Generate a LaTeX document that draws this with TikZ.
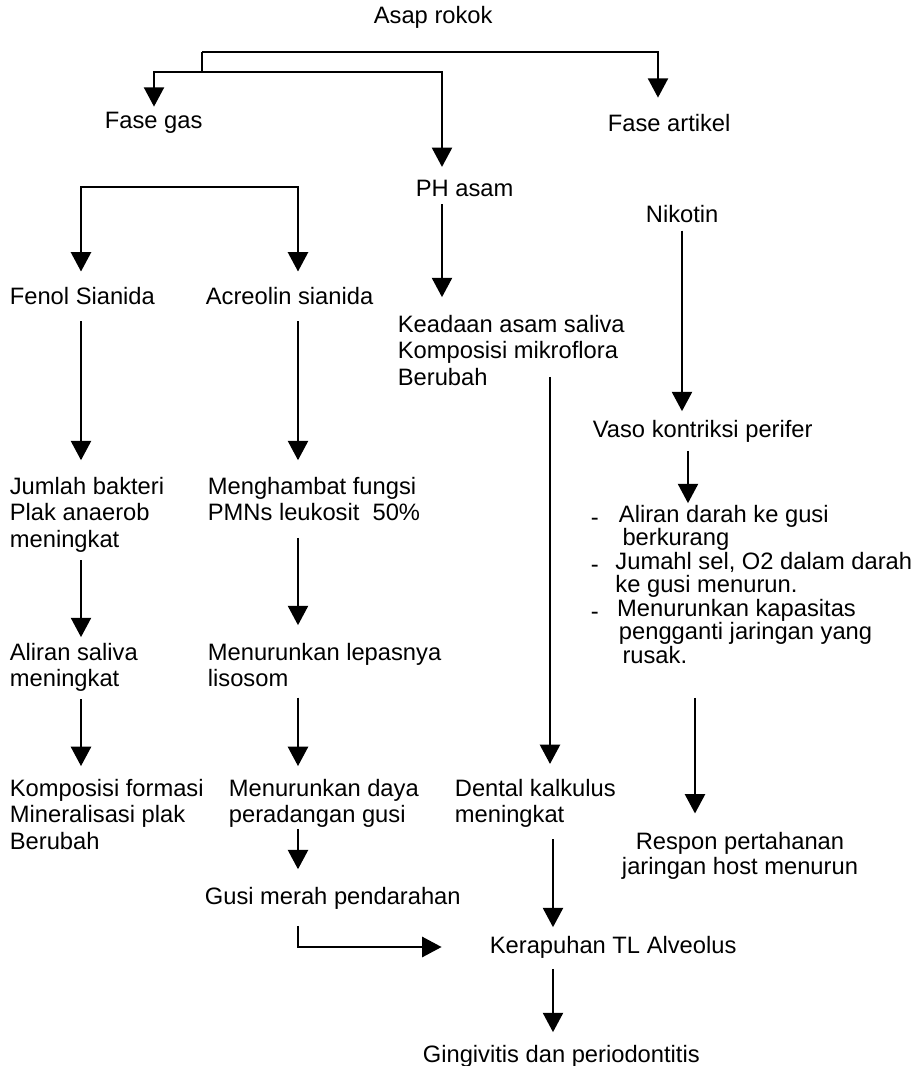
\documentclass[tikz,border=0pt]{standalone}
\usepackage{fontspec}
\setmainfont{Liberation Sans}
\usetikzlibrary{arrows.meta}
\newcommand{\lowdash}[1]{\makebox[#1][l]{\raisebox{-1.8pt}{-}}}
\begin{document}
\begin{tikzpicture}[x=0.02cm,y=-0.02cm,
  line width=1pt,>={Triangle[width=11.5pt,length=11pt]},
  main node/.style={inner sep=0pt,anchor=west,font=\fontsize{13.5}{15.3}\selectfont},
  block node/.style={main node,align=left,anchor=north west}]

  \useasboundingbox (0,0) rectangle (920,1066);

  \node[main node] (asap) at (373,17) {Asap rokok};
  \node[main node] (gas) at (104,123) {Fase gas};
  \node[main node] (artikel) at (607,123) {Fase artikel};
  \node[main node] (ph) at (415,188) {PH asam};
  \node[main node] (nikotin) at (645,214) {Nikotin};
  \node[main node] (fenol) at (9,296) {Fenol Sianida};
  \node[main node] (acreolin) at (205,296) {Acreolin sianida};
  \node[block node] (keadaan) at (397,314) {Keadaan asam saliva\\Komposisi mikroflora\\Berubah};
  \node[main node] (vaso) at (592,431) {Vaso kontriksi perifer};
  \node[block node] (jumlah) at (9,476) {Jumlah bakteri\\Plak anaerob\\meningkat};
  \node[block node] (menghambat) at (207,476) {Menghambat fungsi\\PMNs leukosit\ \ 50\%};
  \node[block node,font=\fontsize{13.5}{13.4}\selectfont] (bullets) at (590,504)
    {\lowdash{16pt}Aliran darah ke gusi\\
     \hspace*{18pt}berkurang\\
     \lowdash{14pt}Jumahl sel, O2 dalam darah\\
     \hspace*{14pt}ke gusi menurun.\\
     \lowdash{15pt}Menurunkan kapasitas\\
     \hspace*{16pt}pengganti jaringan yang\\
     \hspace*{18pt}rusak.};
  \node[block node] (aliran) at (9,642) {Aliran saliva\\meningkat};
  \node[block node] (lepas) at (207,642) {Menurunkan lepasnya\\lisosom};
  \node[block node] (komposisi) at (9,778) {Komposisi formasi\\Mineralisasi plak\\Berubah};
  \node[block node] (daya) at (228,778) {Menurunkan daya\\peradangan gusi};
  \node[block node] (dental) at (454,778) {Dental kalkulus\\meningkat};
  \node[block node,align=center,anchor=north,font=\fontsize{13.5}{14.2}\selectfont] (respon) at (740,831)
    {Respon pertahanan\\jaringan host menurun};
  \node[main node] (gusi) at (204,898) {Gusi merah pendarahan};
  \node[main node] (kerapuhan) at (489,947) {Kerapuhan TL Alveolus};
  \node[main node] (gingiv) at (422,1056) {Gingivitis dan periodontitis};

  % top split
  \coordinate (t1) at (202,52);
  \coordinate (t2) at (202,72);
  \coordinate (a1) at (658,52);
  \coordinate (g1) at (154,72);
  \coordinate (p1) at (442,72);
  \draw[->,shorten >=9pt] (t1) -- (a1) -- (artikel.north -| a1);
  \draw (t1) -- (t2);
  \draw[->,shorten >=2.8pt] (t2) -- (g1) -- (gas.north -| g1);
  \draw[->,shorten >=6.8pt] (t2) -- (p1) -- (ph.north -| p1);

  % fase gas branch
  \coordinate (b1) at (81,187);
  \coordinate (b2) at (298,187);
  \draw[<->,shorten <=8.5pt,shorten >=8.5pt] (fenol.north -| b1) -- (b1) -- (b2) -- (acreolin.north -| b2);
  \draw[->,shorten <=9pt,shorten >=9pt] (fenol.south -| b1) -- (jumlah.north -| b1);
  \draw[->,shorten <=3.7pt,shorten >=2.8pt] (jumlah.south -| b1) -- (aliran.north -| b1);
  \draw[->,shorten <=3.7pt,shorten >=6.8pt] (aliran.south -| b1) -- (komposisi.north -| b1);
  \draw[->,shorten <=9pt,shorten >=9pt] (acreolin.south -| b2) -- (menghambat.north -| b2);
  \draw[->,shorten <=9pt,shorten >=9.6pt] (menghambat.south -| b2) -- (lepas.north -| b2);
  \draw[->,shorten <=5.4pt,shorten >=6.8pt] (lepas.south -| b2) -- (daya.north -| b2);
  \draw[->,shorten >=9.6pt] (daya.south -| b2) -- (gusi.north -| b2);
  \draw[->,shorten <=9pt,shorten >=27pt] (gusi.south -| b2) |- (kerapuhan.west);

  % ph column
  \coordinate (d1) at (550,0);
  \coordinate (d2) at (553,0);
  \draw[->,shorten <=4pt,shorten >=9.6pt] (ph.south -| p1) -- (keadaan.north -| p1);
  \draw[->,shorten <=-5.7pt,shorten >=8pt] (keadaan.south -| d1) -- (dental.north -| d1);
  \draw[->,shorten <=6pt,shorten >=4.5pt] (dental.south -| d2) -- (kerapuhan.north -| d2);
  \draw[->,shorten <=5.7pt,shorten >=6.8pt] (kerapuhan.south -| d2) -- (gingiv.north -| d2);

  % nikotin column
  \coordinate (n1) at (682,0);
  \coordinate (n2) at (688,0);
  \coordinate (n3) at (695,0);
  \draw[->,shorten <=4pt,shorten >=4.5pt] (nikotin.south -| n1) -- (vaso.north -| n1);
  \draw[->,shorten <=4.5pt,shorten >=0.5pt] (vaso.south -| n2) -- (bullets.north -| n2);
  \draw[->,shorten <=19pt,shorten >=10pt] (bullets.south -| n3) -- (respon.north -| n3);
\end{tikzpicture}
\end{document}
